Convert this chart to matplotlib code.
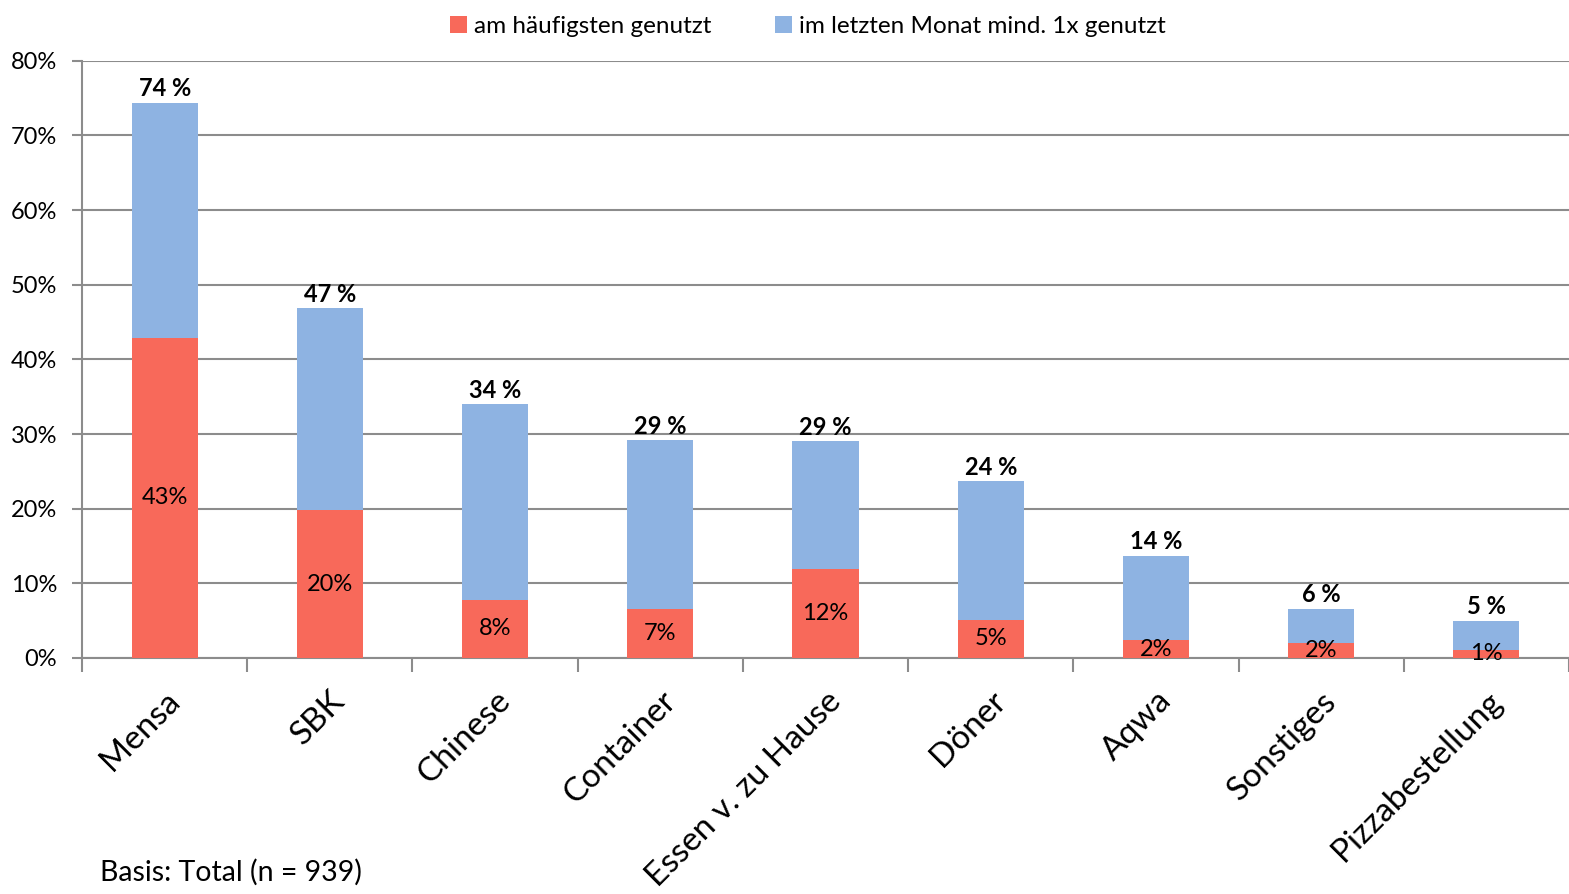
import numpy as np
from matplotlib import pyplot as plt
from matplotlib.ticker import FixedLocator, NullFormatter

plt.rcParams['font.family'] = ['Lato', 'DejaVu Sans']

# data
categories = ['Mensa', 'SBK', 'Chinese', 'Container', 'Essen v. zu Hause',
              'Döner', 'Aqwa', 'Sonstiges', 'Pizzabestellung']
total = [74.4, 46.9, 34.0, 29.2, 29.1, 23.7, 13.7, 6.6, 5.0]
most_used = [42.9, 19.8, 7.8, 6.6, 11.9, 5.1, 2.4, 2.0, 1.1]
total_labels = ['74 %', '47 %', '34 %', '29 %', '29 %', '24 %', '14 %', '6 %', '5 %']
most_labels = ['43%', '20%', '8%', '7%', '12%', '5%', '2%', '2%', '1%']
footnote = 'Basis: Total (n = 939)'

red = '#F8695A'
blue = '#8EB3E2'
grid_col = '#8c8c8c'

fig = plt.figure(figsize=(15.69, 8.94), dpi=100)
ax = fig.add_axes([0.0523, 0.264, 0.9477, 0.668])

x = np.arange(len(categories))
rest = np.array(total) - np.array(most_used)
b1 = ax.bar(x, most_used, width=0.4, color=red, zorder=3,
            label='am häufigsten genutzt')
b2 = ax.bar(x, rest, width=0.4, bottom=most_used, color=blue, zorder=3,
            label='im letzten Monat mind. 1x genutzt')

for i in range(len(categories)):
    ax.text(x[i], total[i] + 0.3, total_labels[i], ha='center', va='bottom',
            fontsize=17, fontweight='bold', zorder=4)
    ax.text(x[i], most_used[i] / 2, most_labels[i], ha='center', va='center',
            fontsize=17, zorder=4)

ax.set_xlim(-0.5, len(categories) - 0.5)
ax.set_ylim(0, 80)
ax.set_yticks(np.arange(0, 81, 10))
ax.set_yticklabels(['%d%%' % v for v in range(0, 81, 10)], fontsize=17)
ax.yaxis.grid(True, color=grid_col, linewidth=1.5, zorder=0)
ax.tick_params(axis='y', length=7, width=1.5, color=grid_col, pad=11)

ax.set_xticks(x)
ax.set_xticklabels(categories, rotation=45, ha='right',
                   rotation_mode='anchor', fontsize=24)
ax.tick_params(axis='x', length=0, pad=20)
ax.xaxis.set_minor_locator(FixedLocator(np.arange(-0.5, len(categories), 1)))
ax.xaxis.set_minor_formatter(NullFormatter())
ax.tick_params(axis='x', which='minor', length=10, width=1.5, color=grid_col)

for s in ['top', 'right']:
    ax.spines[s].set_visible(False)
for s in ['left', 'bottom']:
    ax.spines[s].set_color(grid_col)
    ax.spines[s].set_linewidth(1.5)

fig.legend(handles=[b1, b2], loc='upper center', bbox_to_anchor=(0.515, 1.007),
           ncol=2, frameon=False, fontsize=17.5, handlelength=0.7,
           handleheight=0.7, handletextpad=0.3, columnspacing=2.6)

fig.text(100 / 1569, 1 - 872 / 894, footnote, fontsize=20.5, va='center')

fig.savefig('out.png', dpi=100)
